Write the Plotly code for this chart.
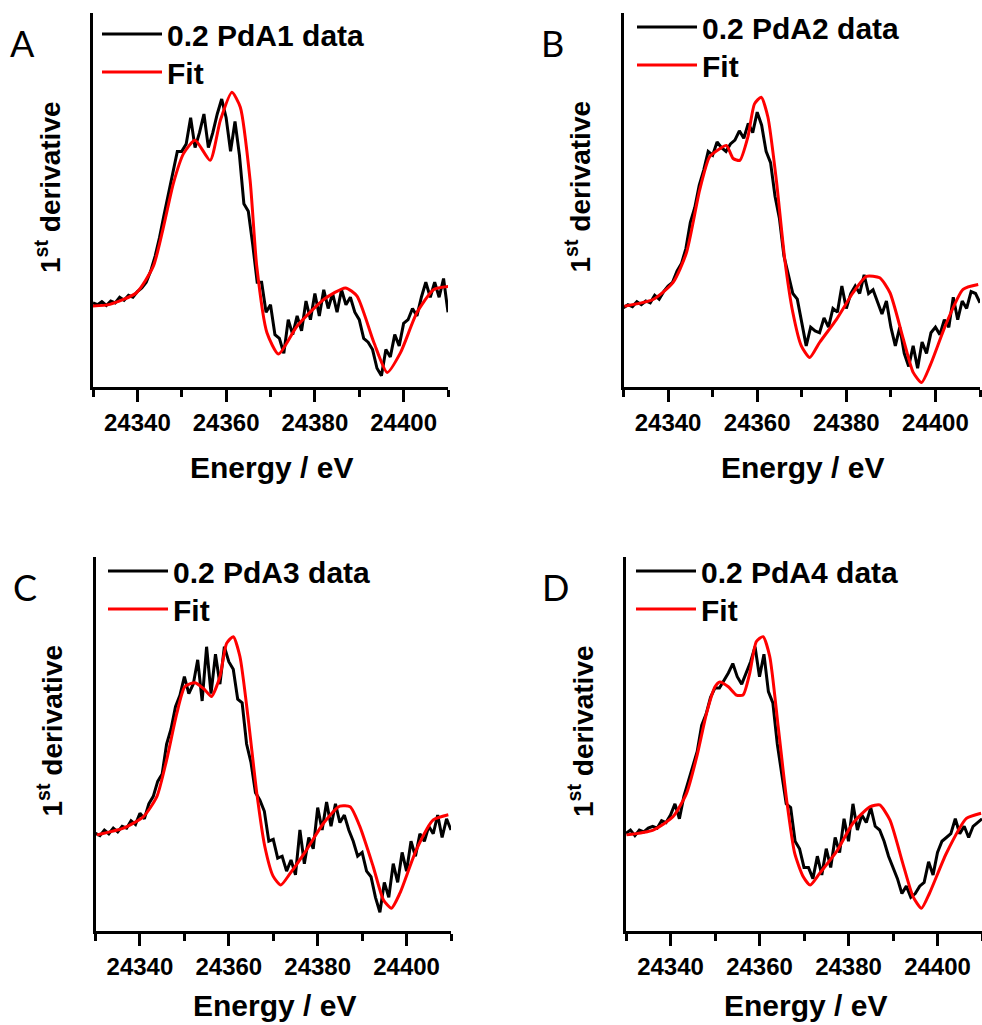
import plotly.graph_objects as go

# ---------------- data ----------------
energy = list(range(24330, 24411))  # eV, 1 eV sampling of the measured spectra

pda1_data = [22.5, 22.0, 22.8, 21.8, 23.0, 22.5, 24.0, 23.2, 24.5, 24.0,
             25.5, 26.5, 28.0, 31.0, 35.0, 40.0, 46.0, 52.0, 57.0, 63.0,
             63.0, 65.0, 72.0, 64.0, 68.0, 73.0, 64.0, 68.0, 73.0, 77.0,
             72.0, 63.0, 71.0, 62.0, 49.0, 47.0, 38.0, 28.0, 28.0, 20.0,
             22.0, 14.0, 13.0, 9.0, 18.0, 14.0, 19.0, 15.0, 23.0, 18.0,
             25.0, 19.0, 26.0, 21.0, 25.0, 20.0, 26.0, 22.0, 24.0, 20.0,
             18.0, 13.0, 12.0, 10.0, 5.0, 3.0, 10.0, 8.0, 14.0, 11.0,
             17.0, 18.0, 21.0, 19.0, 24.0, 28.0, 24.0, 28.0, 24.0, 29.0, 20.0]

pda2_data = [21.2, 22.0, 21.5, 22.8, 22.0, 23.0, 22.5, 24.5, 23.5, 25.5,
             27.0, 28.0, 31.0, 33.0, 37.0, 44.0, 48.0, 54.0, 58.0, 63.0,
             62.0, 65.5, 64.0, 63.0, 65.0, 66.0, 68.5, 66.5, 70.5, 68.0,
             73.5, 70.0, 63.0, 60.0, 51.0, 45.0, 35.0, 30.0, 25.0, 23.5,
             17.0, 11.0, 16.0, 15.0, 14.5, 18.5, 16.0, 21.0, 20.0, 27.0,
             21.0, 25.0, 27.0, 25.0, 30.0, 25.0, 26.0, 23.0, 19.5, 23.0,
             16.0, 11.0, 16.0, 9.0, 5.5, 11.0, 5.0, 12.0, 9.0, 14.5,
             16.0, 14.0, 18.0, 16.0, 24.0, 18.0, 23.0, 21.0, 25.5, 25.0, 22.5]

pda3_data = [26.1, 25.5, 27.0, 26.0, 27.5, 26.5, 28.0, 27.5, 29.5, 28.5,
             31.5, 30.0, 34.0, 36.0, 40.0, 42.0, 50.0, 54.0, 60.0, 63.0,
             68.0, 63.5, 66.0, 72.5, 61.5, 76.0, 63.5, 74.0, 66.0, 76.0,
             72.0, 70.0, 62.0, 61.0, 50.0, 45.0, 37.0, 35.0, 32.0, 24.0,
             24.5, 19.5, 20.0, 16.0, 19.0, 15.0, 27.0, 18.0, 25.0, 22.0,
             33.0, 27.0, 34.5, 28.0, 34.0, 29.0, 31.0, 27.0, 24.0, 20.0,
             21.0, 16.0, 14.5, 9.0, 5.0, 13.0, 9.0, 18.0, 13.0, 21.0,
             16.0, 24.0, 20.0, 26.0, 24.0, 28.0, 26.0, 31.0, 25.0, 30.0, 27.0]

pda4_data = [26.1, 27.0, 25.5, 27.0, 26.5, 27.5, 28.0, 27.5, 29.5, 29.0,
             31.0, 34.0, 30.0, 36.0, 40.0, 44.0, 48.0, 55.0, 58.0, 62.5,
             65.0, 65.0, 67.0, 69.0, 71.5, 68.0, 66.0, 69.0, 72.0, 76.0,
             68.0, 74.0, 64.0, 61.0, 50.0, 42.0, 34.0, 33.0, 24.0, 22.0,
             17.0, 17.0, 14.0, 20.0, 15.0, 22.0, 17.0, 25.0, 21.0, 30.0,
             24.0, 34.0, 27.0, 31.0, 29.0, 33.0, 28.0, 27.0, 24.0, 20.0,
             17.0, 14.0, 10.0, 12.0, 9.0, 10.0, 12.0, 13.0, 18.5, 15.0,
             21.0, 24.0, 25.0, 26.0, 30.0, 26.0, 28.0, 25.0, 28.0, 29.0, 30.0]

fit1_e = [24329.3, 24333.8, 24339.8, 24343.6, 24345.9, 24348.1, 24350.4, 24353.0,
          24356.4, 24358.7, 24361.3, 24363.2, 24365.4, 24366.9, 24369.2, 24371.8,
          24376.0, 24382.0, 24386.9, 24389.5, 24393.3, 24396.3, 24399.3, 24403.0,
          24406.8, 24410.2]
fit1_v = [21.6, 22.1, 25.2, 32.3, 42.9, 54.4, 62.4, 66.0, 60.6, 71.3, 78.8, 74.8,
          55.3, 32.3, 14.5, 8.8, 16.3, 23.4, 26.5, 24.3, 11.9, 3.9, 9.2, 19.9,
          26.1, 26.9]

fit2_e = [24330.2, 24336.6, 24341.1, 24344.1, 24347.1, 24349.3, 24351.6, 24353.1,
          24354.6, 24356.1, 24357.9, 24359.4, 24360.9, 24362.4, 24364.3, 24366.2,
          24368.0, 24369.9, 24371.8, 24374.0, 24377.8, 24381.5, 24384.5, 24387.5,
          24389.8, 24392.8, 24395.0, 24396.9, 24398.8, 24402.5, 24406.2, 24409.6]
fit2_v = [21.6, 23.4, 27.9, 35.8, 52.7, 61.5, 63.7, 64.6, 61.1, 60.6, 66.8, 75.7,
          77.5, 72.2, 55.3, 34.0, 19.9, 11.0, 7.9, 11.9, 18.1, 25.2, 29.6, 29.2,
          25.2, 12.8, 3.9, 1.2, 5.7, 17.2, 26.1, 27.4]

fit3_e = [24330.3, 24336.3, 24340.8, 24343.8, 24346.0, 24348.3, 24350.1, 24352.4,
          24354.6, 24356.1, 24358.0, 24359.5, 24361.0, 24362.5, 24364.4, 24366.3,
          24368.1, 24370.0, 24371.7, 24373.8, 24377.5, 24381.3, 24385.0, 24387.3,
          24389.5, 24392.5, 24394.8, 24396.6, 24398.5, 24402.2, 24406.0, 24409.4]
fit3_v = [25.7, 27.5, 30.6, 35.9, 45.7, 58.2, 65.3, 66.4, 64.5, 62.7, 68.0, 76.9,
          78.7, 73.4, 56.4, 36.8, 22.6, 14.6, 12.3, 15.4, 21.7, 28.8, 33.4, 33.2,
          27.9, 17.2, 8.3, 6.1, 10.1, 21.7, 29.7, 31.1]

fit4_e = [24330.1, 24336.1, 24340.6, 24343.6, 24345.9, 24348.1, 24350.0, 24351.1,
          24353.0, 24354.8, 24356.3, 24357.8, 24359.3, 24360.8, 24362.3, 24364.2,
          24366.1, 24367.9, 24369.8, 24371.4, 24373.5, 24377.3, 24381.0, 24384.8,
          24387.0, 24389.3, 24392.2, 24394.5, 24396.4, 24398.2, 24402.0, 24406.5,
          24409.8]
fit4_v = [25.7, 27.0, 30.6, 36.8, 46.6, 58.2, 65.3, 66.6, 65.3, 63.1, 63.1, 68.9,
          77.4, 78.7, 73.4, 54.6, 35.0, 20.8, 14.6, 12.3, 15.4, 21.2, 28.8, 33.2,
          33.7, 29.7, 18.1, 9.2, 6.1, 10.1, 20.8, 30.1, 31.5]

sample_names = ["0.2 PdA1 data", "0.2 PdA2 data", "0.2 PdA3 data", "0.2 PdA4 data"]
fit_name = "Fit"
panel_letters = ["A", "B", "C", "D"]
x_ticks = [24340, 24360, 24380, 24400]
x_range = [24330, 24410]
y_range = [0, 100]

# ---------------- layout geometry (pixels) ----------------
W, H = 982, 1025
def px(x):
    return x / W
def py(y):
    return 1 - y / H

panels = [
    # (x0, x1, ytop, ybottom)
    (93.0, 448.0, 13.0, 387.0),
    (623.5, 980.0, 13.0, 387.0),
    (95.5, 451.0, 557.0, 931.0),
    (626.0, 982.0, 557.0, 931.0),
]
# legend box positions (left, top) for data row and fit row
legend_data_pos = [(97, 8), (632, 1), (103, 545), (631, 545)]
legend_fit_pos = [(97, 46), (632, 39), (103, 583), (631, 583)]

data_sets = [pda1_data, pda2_data, pda3_data, pda4_data]
fit_sets = [(fit1_e, fit1_v), (fit2_e, fit2_v), (fit3_e, fit3_v), (fit4_e, fit4_v)]

FONT = "Liberation Sans, Arial, sans-serif"

fig = go.Figure()
layout = dict(
    width=W, height=H,
    margin=dict(l=0, r=0, t=0, b=0),
    paper_bgcolor="white", plot_bgcolor="white",
    font=dict(family=FONT, color="black"),
    showlegend=True,
)
annotations = []

def legend_cfg(pos):
    lx, ly = pos
    return dict(
        x=px(lx), y=py(ly), xanchor="left", yanchor="top",
        xref="paper", yref="paper", visible=True,
        bgcolor="rgba(0,0,0,0)", borderwidth=0, itemwidth=60,
        font=dict(family=FONT, size=30, color="black", weight="bold"),
    )

for i in range(4):
    x0, x1, yt, yb = panels[i]
    sfx = "" if i == 0 else str(i + 1)
    leg_d = "legend" + str(2 * i + 2)
    leg_f = "legend" + str(2 * i + 3)
    fig.add_trace(go.Scatter(
        x=energy, y=data_sets[i], mode="lines", name=sample_names[i],
        line=dict(color="black", width=3), xaxis="x" + sfx, yaxis="y" + sfx,
        legend=leg_d, showlegend=True))
    fe, fv = fit_sets[i]
    fig.add_trace(go.Scatter(
        x=fe, y=fv, mode="lines", name=fit_name,
        line=dict(color="#ff0000", width=3, shape="spline", smoothing=0.6),
        xaxis="x" + sfx, yaxis="y" + sfx, legend=leg_f, showlegend=True))

    layout["xaxis" + sfx] = dict(
        domain=[px(x0), px(x1)], anchor="y" + sfx, range=x_range,
        tickmode="array", tickvals=x_ticks, ticktext=[str(t) for t in x_ticks],
        ticks="outside", ticklen=12, tickwidth=2.5, tickcolor="black",
        minor=dict(dtick=10, tick0=24330, ticks="outside", ticklen=7,
                   tickwidth=2.5, tickcolor="black"),
        showline=True, linewidth=2.5, linecolor="black", mirror=False,
        showgrid=False, zeroline=False, automargin=False,
        tickfont=dict(family=FONT, size=24, color="black", weight="bold"),
    )
    layout["yaxis" + sfx] = dict(
        domain=[py(yb), py(yt)], anchor="x" + sfx, range=y_range,
        showticklabels=False, ticks="", showline=True, linewidth=2.5,
        linecolor="black", showgrid=False, zeroline=False, automargin=False,
    )
    layout[leg_d] = legend_cfg(legend_data_pos[i])
    layout[leg_f] = legend_cfg(legend_fit_pos[i])

    cx = (x0 + x1) / 2
    if i < 2:
        title_y, title_anchor = py(yb + 81), "middle"
    else:
        title_y, title_anchor = py(H - 1), "bottom"
    annotations.append(dict(
        text="Energy / eV", x=px(cx + 1), y=title_y, xref="paper", yref="paper",
        showarrow=False, xanchor="center", yanchor=title_anchor,
        font=dict(family=FONT, size=30, color="black", weight="bold")))
    annotations.append(dict(
        text="1<sup>st</sup> derivative", x=px(x0 - 45), y=py(yt + 174),
        xref="paper", yref="paper", showarrow=False, textangle=-90,
        xanchor="center", yanchor="middle",
        font=dict(family=FONT, size=28, color="black", weight="bold")))
    annotations.append(dict(
        text=panel_letters[i], x=px(x0 - 71), y=py(yt + 30),
        xref="paper", yref="paper", showarrow=False,
        xanchor="center", yanchor="middle",
        font=dict(family="Lato, Open Sans, sans-serif", size=36, color="black")))

layout["annotations"] = annotations
fig.update_layout(**layout)
fig.write_html(
    "out.html",
    config={"displayModeBar": False},
    post_script="document.body.style.margin='0';document.body.style.overflow='hidden';",
)
